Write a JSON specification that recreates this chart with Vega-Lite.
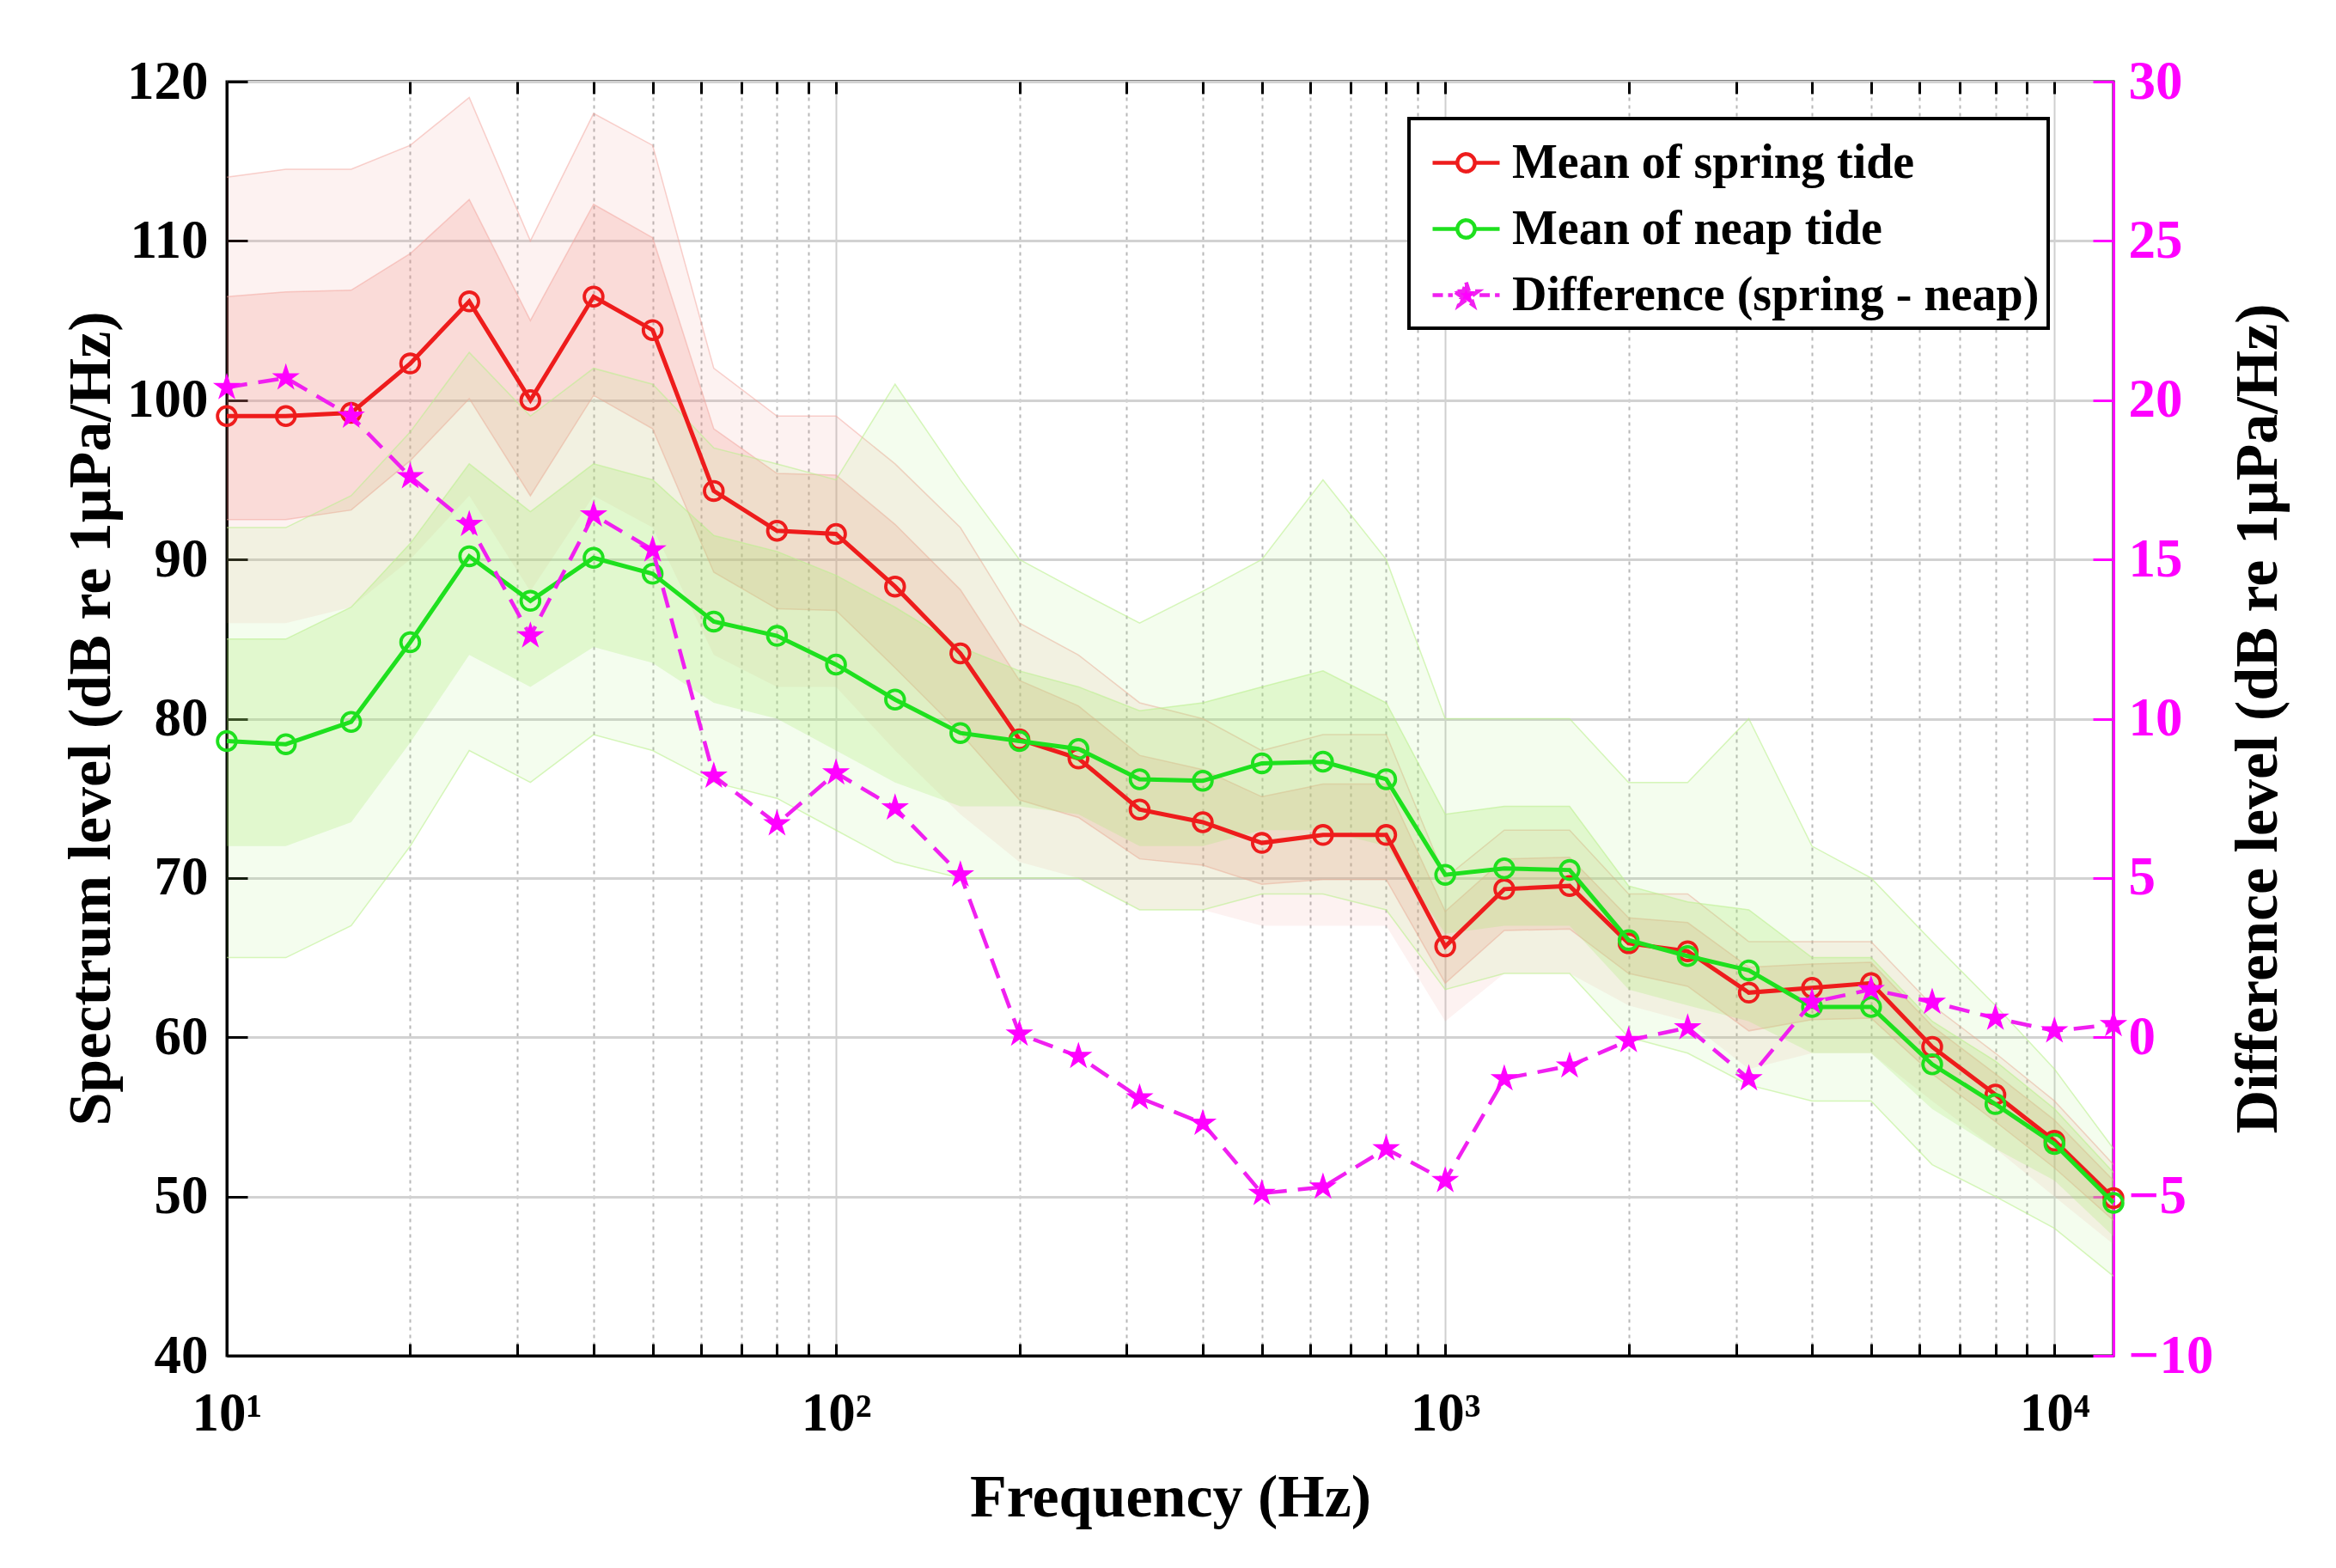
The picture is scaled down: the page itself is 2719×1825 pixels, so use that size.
{
  "$schema": "https://vega.github.io/schema/vega-lite/v6.json",
  "description": "Spring vs neap tide mean spectrum levels with the spring - neap difference on a right axis.",
  "width": 2196,
  "height": 1483,
  "autosize": {"type": "none"},
  "padding": {"left": 264, "top": 95, "right": 259, "bottom": 247},
  "background": "white",
  "data": {
    "values": [
      {"f": 10, "s": 99.0, "n": 78.6, "d": 20.4, "slo": 86, "shi": 114, "sl2": 92.5, "sh2": 106.5, "nlo": 65, "nhi": 92, "nl2": 72, "nh2": 85},
      {"f": 12.5, "s": 99.0, "n": 78.4, "d": 20.7, "slo": 86, "shi": 114.5, "sl2": 92.5, "sh2": 106.8, "nlo": 65, "nhi": 92, "nl2": 72, "nh2": 85},
      {"f": 16, "s": 99.2, "n": 79.8, "d": 19.5, "slo": 87, "shi": 114.5, "sl2": 93.1, "sh2": 106.9, "nlo": 67, "nhi": 94, "nl2": 73.5, "nh2": 87},
      {"f": 20, "s": 102.3, "n": 84.8, "d": 17.6, "slo": 90, "shi": 116, "sl2": 96.2, "sh2": 109.2, "nlo": 72, "nhi": 98, "nl2": 78.5, "nh2": 91},
      {"f": 25, "s": 106.2, "n": 90.2, "d": 16.1, "slo": 94, "shi": 119, "sl2": 100.1, "sh2": 112.6, "nlo": 78, "nhi": 103, "nl2": 84, "nh2": 96},
      {"f": 31.5, "s": 100.0, "n": 87.4, "d": 12.6, "slo": 88, "shi": 110, "sl2": 94, "sh2": 105, "nlo": 76, "nhi": 99, "nl2": 82, "nh2": 93},
      {"f": 40, "s": 106.5, "n": 90.1, "d": 16.4, "slo": 94, "shi": 118, "sl2": 100.3, "sh2": 112.3, "nlo": 79, "nhi": 102, "nl2": 84.5, "nh2": 96},
      {"f": 50, "s": 104.4, "n": 89.1, "d": 15.3, "slo": 92, "shi": 116, "sl2": 98.2, "sh2": 110.2, "nlo": 78, "nhi": 101, "nl2": 83.5, "nh2": 95},
      {"f": 63, "s": 94.3, "n": 86.1, "d": 8.2, "slo": 84, "shi": 102, "sl2": 89.2, "sh2": 98.2, "nlo": 76, "nhi": 97, "nl2": 81, "nh2": 91.5},
      {"f": 80, "s": 91.8, "n": 85.2, "d": 6.7, "slo": 82, "shi": 99, "sl2": 86.9, "sh2": 95.4, "nlo": 75, "nhi": 96, "nl2": 80, "nh2": 90.5},
      {"f": 100, "s": 91.6, "n": 83.4, "d": 8.3, "slo": 82, "shi": 99, "sl2": 86.8, "sh2": 95.3, "nlo": 73, "nhi": 95, "nl2": 78, "nh2": 89},
      {"f": 125, "s": 88.3, "n": 81.2, "d": 7.2, "slo": 78, "shi": 96, "sl2": 83.2, "sh2": 92.2, "nlo": 71, "nhi": 101, "nl2": 76, "nh2": 87},
      {"f": 160, "s": 84.1, "n": 79.1, "d": 5.1, "slo": 74, "shi": 92, "sl2": 79.1, "sh2": 88.1, "nlo": 70, "nhi": 95, "nl2": 74.5, "nh2": 84.5},
      {"f": 200, "s": 78.7, "n": 78.6, "d": 0.1, "slo": 71, "shi": 86, "sl2": 74.9, "sh2": 82.4, "nlo": 70, "nhi": 90, "nl2": 74.5, "nh2": 83},
      {"f": 250, "s": 77.5, "n": 78.1, "d": -0.6, "slo": 70, "shi": 84, "sl2": 73.8, "sh2": 80.8, "nlo": 70, "nhi": 88, "nl2": 74, "nh2": 82},
      {"f": 315, "s": 74.3, "n": 76.2, "d": -1.9, "slo": 68, "shi": 81, "sl2": 71.2, "sh2": 77.7, "nlo": 68, "nhi": 86, "nl2": 72, "nh2": 80.5},
      {"f": 400, "s": 73.5, "n": 76.1, "d": -2.7, "slo": 68, "shi": 80, "sl2": 70.8, "sh2": 76.8, "nlo": 68, "nhi": 88, "nl2": 72, "nh2": 81},
      {"f": 500, "s": 72.2, "n": 77.2, "d": -4.9, "slo": 67, "shi": 78, "sl2": 69.6, "sh2": 75.1, "nlo": 69, "nhi": 90, "nl2": 73, "nh2": 82},
      {"f": 630, "s": 72.7, "n": 77.3, "d": -4.7, "slo": 67, "shi": 79, "sl2": 69.9, "sh2": 75.9, "nlo": 69, "nhi": 95, "nl2": 73, "nh2": 83},
      {"f": 800, "s": 72.7, "n": 76.2, "d": -3.5, "slo": 67, "shi": 79, "sl2": 69.9, "sh2": 75.9, "nlo": 68, "nhi": 90, "nl2": 72, "nh2": 81},
      {"f": 1000, "s": 65.7, "n": 70.2, "d": -4.5, "slo": 61, "shi": 70, "sl2": 63.4, "sh2": 67.9, "nlo": 63, "nhi": 80, "nl2": 66.5, "nh2": 74},
      {"f": 1250, "s": 69.3, "n": 70.6, "d": -1.3, "slo": 64, "shi": 73, "sl2": 66.7, "sh2": 71.2, "nlo": 64, "nhi": 80, "nl2": 67, "nh2": 74.5},
      {"f": 1600, "s": 69.5, "n": 70.5, "d": -0.9, "slo": 64, "shi": 73, "sl2": 66.8, "sh2": 71.3, "nlo": 64, "nhi": 80, "nl2": 67, "nh2": 74.5},
      {"f": 2000, "s": 65.9, "n": 66.1, "d": -0.1, "slo": 62, "shi": 69, "sl2": 64, "sh2": 67.5, "nlo": 60, "nhi": 76, "nl2": 63, "nh2": 69.5},
      {"f": 2500, "s": 65.4, "n": 65.1, "d": 0.3, "slo": 61, "shi": 69, "sl2": 63.2, "sh2": 67.2, "nlo": 59, "nhi": 76, "nl2": 62, "nh2": 68.5},
      {"f": 3150, "s": 62.8, "n": 64.2, "d": -1.3, "slo": 58, "shi": 66, "sl2": 60.4, "sh2": 64.4, "nlo": 57, "nhi": 80, "nl2": 61, "nh2": 68},
      {"f": 4000, "s": 63.1, "n": 61.9, "d": 1.1, "slo": 59, "shi": 66, "sl2": 61.1, "sh2": 64.6, "nlo": 56, "nhi": 72, "nl2": 59, "nh2": 65},
      {"f": 5000, "s": 63.4, "n": 61.9, "d": 1.5, "slo": 59, "shi": 66, "sl2": 61.2, "sh2": 64.7, "nlo": 56, "nhi": 70, "nl2": 59, "nh2": 65},
      {"f": 6300, "s": 59.4, "n": 58.3, "d": 1.1, "slo": 56, "shi": 62, "sl2": 57.7, "sh2": 60.7, "nlo": 52, "nhi": 66, "nl2": 55.5, "nh2": 61},
      {"f": 8000, "s": 56.4, "n": 55.8, "d": 0.6, "slo": 53, "shi": 59, "sl2": 54.7, "sh2": 57.7, "nlo": 50, "nhi": 62, "nl2": 53, "nh2": 58.5},
      {"f": 10000, "s": 53.5, "n": 53.3, "d": 0.2, "slo": 50, "shi": 56, "sl2": 51.8, "sh2": 54.8, "nlo": 48, "nhi": 58, "nl2": 51, "nh2": 55.5},
      {"f": 12500, "s": 49.9, "n": 49.6, "d": 0.4, "slo": 47, "shi": 52, "sl2": 48.5, "sh2": 51, "nlo": 45, "nhi": 53, "nl2": 47.5, "nh2": 51.5}
    ]
  },
  "layer": [
    {
      "encoding": {
        "x": {
          "field": "f",
          "type": "quantitative",
          "scale": {"type": "log", "domain": [10, 12500], "nice": false},
          "axis": {
            "orient": "bottom",
            "values": [10, 20, 30, 40, 50, 60, 70, 80, 90, 100, 200, 300, 400, 500, 600, 700, 800, 900, 1000, 2000, 3000, 4000, 5000, 6000, 7000, 8000, 9000, 10000],
            "grid": true,
            "gridColor": {"condition": {"test": "datum.value == 10 || datum.value == 100 || datum.value == 1000 || datum.value == 10000", "value": "#cfcfcf"}, "value": "#b8b8b8"},
            "gridDash": {"condition": {"test": "datum.value == 10 || datum.value == 100 || datum.value == 1000 || datum.value == 10000", "value": []}, "value": [4, 5]},
            "gridWidth": 2,
            "tickSize": -14,
            "labelPadding": 50,
            "labelExpr": "datum.value == 10 ? '10¹' : datum.value == 100 ? '10²' : datum.value == 1000 ? '10³' : datum.value == 10000 ? '10⁴' : ''",
            "labelOverlap": false,
            "labelFlush": false,
            "title": "Frequency (Hz)",
            "titleX": 1098,
            "titleY": 165,
            "titleAlign": "center",
            "titleBaseline": "middle"
          }
        }
      },
      "layer": [
        {
          "mark": {"type": "area", "color": "#f08a80", "opacity": 0.11},
          "encoding": {
            "y": {
              "field": "slo",
              "type": "quantitative",
              "scale": {"domain": [40, 120], "nice": false},
              "title": "Spectrum level (dB re 1μPa/Hz)",
              "axis": {
                "values": [40, 50, 60, 70, 80, 90, 100, 110, 120],
                "grid": true,
                "gridColor": "#d2d2d2",
                "gridWidth": 3,
                "tickSize": -24,
                "labelPadding": 46,
                "titleAngle": 270,
                "titleX": -158,
                "titleY": 741,
                "titleAlign": "center",
                "titleBaseline": "middle"
              }
            },
            "y2": {"field": "shi"}
          }
        },
        {
          "mark": {"type": "area", "color": "#f08a80", "opacity": 0.22},
          "encoding": {
            "y": {"field": "sl2", "type": "quantitative", "title": "Spectrum level (dB re 1μPa/Hz)"},
            "y2": {"field": "sh2"}
          }
        },
        {
          "mark": {"type": "line", "color": "#f4a49c", "strokeWidth": 1.5, "opacity": 0.5},
          "encoding": {"y": {"field": "shi", "type": "quantitative", "title": "Spectrum level (dB re 1μPa/Hz)"}}
        },
        {
          "mark": {"type": "line", "color": "#f4a49c", "strokeWidth": 1.5, "opacity": 0.5},
          "encoding": {"y": {"field": "sh2", "type": "quantitative", "title": "Spectrum level (dB re 1μPa/Hz)"}}
        },
        {
          "mark": {"type": "line", "color": "#f4a49c", "strokeWidth": 1.5, "opacity": 0.5},
          "encoding": {"y": {"field": "sl2", "type": "quantitative", "title": "Spectrum level (dB re 1μPa/Hz)"}}
        },
        {
          "mark": {"type": "area", "color": "#a6ec70", "opacity": 0.12},
          "encoding": {
            "y": {"field": "nlo", "type": "quantitative", "title": "Spectrum level (dB re 1μPa/Hz)"},
            "y2": {"field": "nhi"}
          }
        },
        {
          "mark": {"type": "area", "color": "#a6ec70", "opacity": 0.25},
          "encoding": {
            "y": {"field": "nl2", "type": "quantitative", "title": "Spectrum level (dB re 1μPa/Hz)"},
            "y2": {"field": "nh2"}
          }
        },
        {
          "mark": {"type": "line", "color": "#bdf090", "strokeWidth": 1.5, "opacity": 0.6},
          "encoding": {"y": {"field": "nhi", "type": "quantitative", "title": "Spectrum level (dB re 1μPa/Hz)"}}
        },
        {
          "mark": {"type": "line", "color": "#bdf090", "strokeWidth": 1.5, "opacity": 0.6},
          "encoding": {"y": {"field": "nlo", "type": "quantitative", "title": "Spectrum level (dB re 1μPa/Hz)"}}
        },
        {
          "mark": {"type": "line", "color": "#bdf090", "strokeWidth": 1.5, "opacity": 0.6},
          "encoding": {"y": {"field": "nh2", "type": "quantitative", "title": "Spectrum level (dB re 1μPa/Hz)"}}
        },
        {
          "mark": {"type": "line", "strokeWidth": 5},
          "encoding": {
            "y": {"field": "s", "type": "quantitative", "title": "Spectrum level (dB re 1μPa/Hz)"},
            "color": {
              "datum": "Mean of spring tide",
              "scale": {
                "domain": ["Mean of spring tide", "Mean of neap tide", "Difference (spring - neap)"],
                "range": ["#ee1c1c", "#1ee01e", "#f020f0"]
              },
              "legend": {
                "title": null,
                "orient": "none",
                "legendX": 1376,
                "legendY": 43,
                "direction": "vertical",
                "fillColor": "white",
                "strokeColor": "black",
                "padding": 10,
                "cornerRadius": 0,
                "labelFont": "Liberation Serif",
                "labelFontWeight": "bold",
                "labelFontSize": 56,
                "labelColor": "black",
                "labelLimit": 0,
                "labelOffset": 12,
                "symbolOffset": 15,
                "symbolType": "M-1,0L-0.26,0M0.26,0L1,0M0.26,0A0.26,0.26,0,1,1,-0.26,0A0.26,0.26,0,1,1,0.26,0",
                "symbolSize": 6084,
                "symbolStrokeWidth": 4.5,
                "rowPadding": 7,
                "encode": {
                  "legend": {"update": {"strokeWidth": {"value": 4}}},
                  "symbols": {
                    "update": {
                      "shape": {"signal": "datum.value === 'Difference (spring - neap)' ? 'M-1,0L-0.4,0M0.4,0L1,0M0,-0.38L0.085,-0.117L0.361,-0.117L0.138,0.045L0.223,0.307L0,0.145L-0.223,0.307L-0.138,0.045L-0.361,-0.117L-0.085,-0.117Z' : 'M-1,0L-0.26,0M0.26,0L1,0M0.26,0A0.26,0.26,0,1,1,-0.26,0A0.26,0.26,0,1,1,0.26,0'"},
                      "fill": {"signal": "datum.value === 'Difference (spring - neap)' ? '#ff00ff' : 'transparent'"},
                      "strokeDash": {"signal": "datum.value === 'Difference (spring - neap)' ? [12, 6] : [1, 0]"}
                    }
                  }
                }
              }
            }
          }
        },
        {
          "mark": {"type": "point", "shape": "circle", "filled": false, "size": 470, "strokeWidth": 3.8, "color": "#ee1c1c", "opacity": 1},
          "encoding": {
            "y": {"field": "s", "type": "quantitative", "title": "Spectrum level (dB re 1μPa/Hz)"}
          }
        },
        {
          "mark": {"type": "line", "strokeWidth": 5},
          "encoding": {
            "y": {"field": "n", "type": "quantitative", "title": "Spectrum level (dB re 1μPa/Hz)"},
            "color": {"datum": "Mean of neap tide"}
          }
        },
        {
          "mark": {"type": "point", "shape": "circle", "filled": false, "size": 470, "strokeWidth": 3.8, "color": "#1ee01e", "opacity": 1},
          "encoding": {
            "y": {"field": "n", "type": "quantitative", "title": "Spectrum level (dB re 1μPa/Hz)"}
          }
        }
      ]
    },
    {
      "encoding": {
        "x": {
          "field": "f",
          "type": "quantitative",
          "scale": {"type": "log", "domain": [10, 12500], "nice": false},
          "axis": {
            "orient": "top",
            "values": [10, 20, 30, 40, 50, 60, 70, 80, 90, 100, 200, 300, 400, 500, 600, 700, 800, 900, 1000, 2000, 3000, 4000, 5000, 6000, 7000, 8000, 9000, 10000],
            "grid": false,
            "labels": false,
            "domain": false,
            "tickSize": -14,
            "title": null
          }
        },
        "y": {
          "field": "d",
          "type": "quantitative",
          "scale": {"domain": [-10, 30], "nice": false},
          "title": "Difference level (dB re 1μPa/Hz)",
          "axis": {
            "orient": "right",
            "values": [-10, -5, 0, 5, 10, 15, 20, 25, 30],
            "grid": false,
            "domainColor": "#ff00ff",
            "tickColor": "#ff00ff",
            "labelColor": "#ff00ff",
            "tickSize": -24,
            "labelPadding": 41,
            "titleColor": "black",
            "titleAngle": 270,
            "titleX": 168,
            "titleY": 741,
            "titleAlign": "center",
            "titleBaseline": "middle"
          }
        }
      },
      "layer": [
        {
          "mark": {"type": "line", "strokeWidth": 4.5, "strokeDash": [24, 13]},
          "encoding": {
            "color": {"datum": "Difference (spring - neap)"}
          }
        },
        {
          "mark": {
            "type": "point",
            "shape": "M0,-1L0.2245,-0.309L0.951,-0.309L0.363,0.118L0.588,0.809L0,0.382L-0.588,0.809L-0.363,0.118L-0.951,-0.309L-0.2245,-0.309Z",
            "filled": true,
            "size": 1150,
            "color": "#ff00ff",
            "opacity": 1
          }
        }
      ]
    }
  ],
  "resolve": {"scale": {"y": "independent"}, "axis": {"x": "independent"}},
  "config": {
    "font": "Liberation Serif",
    "view": {"stroke": "black", "strokeWidth": 3},
    "axis": {
      "labelFont": "Liberation Serif",
      "labelFontWeight": "bold",
      "labelFontSize": 63,
      "labelColor": "black",
      "titleFont": "Liberation Serif",
      "titleFontWeight": "bold",
      "titleFontSize": 70,
      "titleColor": "black",
      "domainColor": "black",
      "domainWidth": 3,
      "tickColor": "black",
      "tickWidth": 3
    }
  }
}
